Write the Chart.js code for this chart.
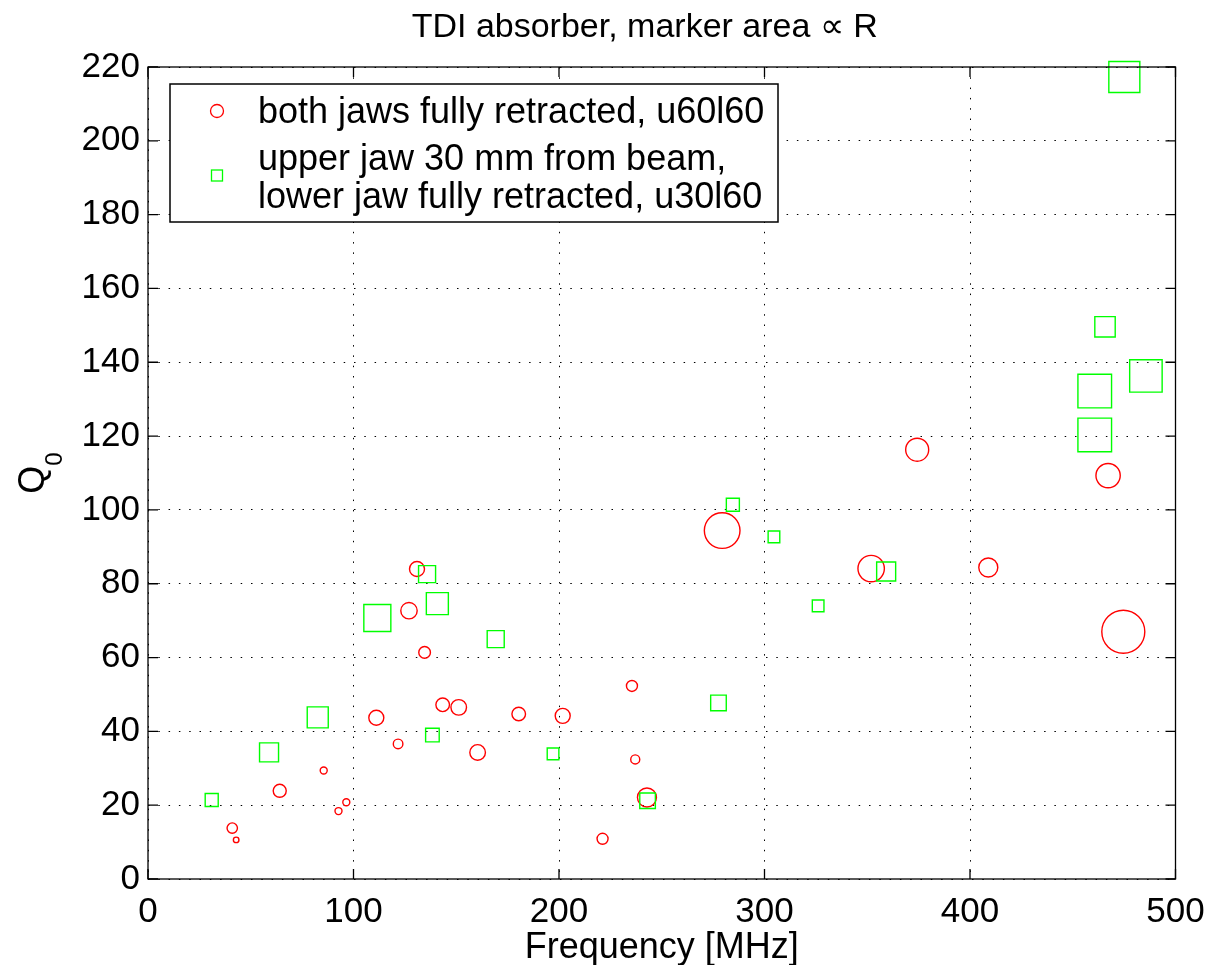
<!DOCTYPE html>
<html>
<head>
<meta charset="utf-8">
<title>TDI absorber</title>
<script src="https://cdn.jsdelivr.net/npm/chart.js@4.4.1/dist/chart.umd.min.js"></script>
<style>
    html, body { margin: 0; padding: 0; background: #fff; }
    #wrap { width: 1213px; height: 965px; }
</style>
</head>
<body>
<div id="wrap"><canvas id="tdiChart" width="1213" height="965"></canvas></div>
<script>
// u60l60: both jaws fully retracted
const redFreq = [41.0, 42.9, 64.1, 85.5, 92.7, 96.5, 111.1, 121.7, 127.0, 130.9, 134.6, 143.4, 151.2,
    160.4, 180.4, 201.8, 221.2, 235.5, 237.1, 242.8, 279.4, 351.9, 374.3, 408.9, 467.2, 474.6]
const redQ = [13.8, 10.6, 23.9, 29.4, 18.4, 20.8, 43.7, 36.6, 72.7, 84.0, 61.4, 47.2, 46.5,
    34.3, 44.7, 44.2, 10.9, 52.3, 32.4, 22.1, 94.4, 84.1, 116.3, 84.4, 109.3, 67.0]
const redR = [8.1, 2.7, 12.3, 4, 4, 4, 16, 7, 18.9, 16, 10, 13.3, 17.2,
    17.2, 13.3, 16, 9, 9, 6.3, 25, 84, 47, 36, 25, 40, 121]

// u30l60: upper jaw 30 mm from beam
const greenFreq = [31.0, 58.9, 82.6, 111.6, 135.8, 138.4, 140.8, 169.2, 197.1, 243.1,
    277.6, 284.6, 304.6, 326.1, 359.2, 460.7, 460.7, 465.7, 475.1, 485.6]
const greenQ = [21.4, 34.3, 43.8, 70.7, 82.6, 39.0, 74.6, 65.0, 33.9, 21.2,
    47.7, 101.4, 92.7, 74.0, 83.3, 120.3, 132.2, 149.6, 217.3, 136.3]
const greenR = [12.3, 25, 30.3, 49, 20.3, 13.3, 33.1, 20.3, 10, 17.2,
    17.2, 12.3, 10, 10, 25, 75, 75, 28.6, 64, 70]

const seriesLabels = [
    ['both jaws fully retracted, u60l60'],
    ['upper jaw 30 mm from beam,', 'lower jaw fully retracted, u30l60']
]
const titleText = 'TDI absorber, marker area \u221D R'
const xLabel = 'Frequency [MHz]'
const yLabel = 'Q'
const yLabelSub = '0'

const FONT = '"Liberation Sans", Arial, Helvetica, sans-serif'

// marker area proportional to R -> half size grows with sqrt(R)
const halfSize = r => 2 * Math.sqrt(r) - 0.5

const toPoints = (xs, ys) => xs.map((x, i) => ({ x: x, y: ys[i] }))

const matlabFrame = {
    id: 'matlabFrame',
    afterDraw(chart) {
        const { ctx, chartArea: a, scales } = chart
        ctx.save()
        ctx.strokeStyle = '#000'
        ctx.lineWidth = 1.3
        ctx.strokeRect(a.left, a.top, a.right - a.left, a.bottom - a.top)

        // inward ticks on all four sides
        const len = 10
        ctx.beginPath()
        scales.x.ticks.forEach(t => {
            const px = scales.x.getPixelForValue(t.value)
            ctx.moveTo(px, a.bottom); ctx.lineTo(px, a.bottom - len)
            ctx.moveTo(px, a.top); ctx.lineTo(px, a.top + len)
        })
        scales.y.ticks.forEach(t => {
            const py = scales.y.getPixelForValue(t.value)
            ctx.moveTo(a.left, py); ctx.lineTo(a.left + len, py)
            ctx.moveTo(a.right, py); ctx.lineTo(a.right - len, py)
        })
        ctx.stroke()

        ctx.fillStyle = '#000'
        const cx = (a.left + a.right) / 2

        // title
        ctx.font = '34px ' + FONT
        ctx.textAlign = 'center'
        ctx.textBaseline = 'alphabetic'
        ctx.fillText(titleText, cx - 17, 37)

        // x label
        ctx.font = '36px ' + FONT
        ctx.fillText(xLabel, cx, 958)

        // y label with subscript
        ctx.save()
        ctx.translate(44, (a.top + a.bottom) / 2)
        ctx.rotate(-Math.PI / 2)
        ctx.textAlign = 'left'
        ctx.font = '36px ' + FONT
        const wq = ctx.measureText(yLabel).width
        ctx.font = '24px ' + FONT
        const ws = ctx.measureText(yLabelSub).width
        const start = -(wq + ws) / 2
        ctx.font = '36px ' + FONT
        ctx.fillText(yLabel, start, 0)
        ctx.font = '24px ' + FONT
        ctx.fillText(yLabelSub, start + wq, 18)
        ctx.restore()

        // legend box
        const lx = a.left + 22, ly = a.top + 17, lw = 608, lh = 138
        ctx.fillStyle = '#fff'
        ctx.fillRect(lx, ly, lw, lh)
        ctx.lineWidth = 1.5
        ctx.strokeStyle = '#000'
        ctx.strokeRect(lx, ly, lw, lh)

        ctx.font = '36px ' + FONT
        ctx.fillStyle = '#000'
        ctx.textAlign = 'left'
        const textX = lx + 88
        const markX = lx + 47
        // row 1
        ctx.fillText(seriesLabels[0][0], textX, ly + 39)
        ctx.beginPath()
        ctx.arc(markX, ly + 27, 6.5, 0, Math.PI * 2)
        ctx.strokeStyle = chart.data.datasets[0].borderColor
        ctx.lineWidth = 1.3
        ctx.stroke()
        // row 2 (two lines)
        ctx.fillText(seriesLabels[1][0], textX, ly + 86)
        ctx.fillText(seriesLabels[1][1], textX, ly + 124)
        ctx.strokeStyle = chart.data.datasets[1].borderColor
        ctx.strokeRect(markX - 5.5, ly + 86, 11, 11)
        ctx.restore()
    }
}

const ctx = document.getElementById('tdiChart').getContext('2d')
const tdiChart = new Chart(ctx, {
    type: 'scatter',
    data: {
        datasets: [{
            label: seriesLabels[0].join(' '),
            data: toPoints(redFreq, redQ),
            pointStyle: 'circle',
            borderColor: '#ff0000',
            backgroundColor: 'rgba(0,0,0,0)',
            pointBorderWidth: 1.4,
            pointRadius: c => halfSize(redR[c.dataIndex]),
            clip: false,
            order: 2
        }, {
            label: seriesLabels[1].join(' '),
            data: toPoints(greenFreq, greenQ),
            pointStyle: 'rect',
            borderColor: '#00ff00',
            backgroundColor: 'rgba(0,0,0,0)',
            pointBorderWidth: 1.4,
            pointRadius: c => halfSize(greenR[c.dataIndex]) * Math.SQRT2,
            clip: false,
            order: 1
        }]
    },
    options: {
        responsive: false,
        animation: false,
        events: [],
        layout: {
            padding: { left: 0, right: 37.5, top: 67, bottom: 0 }
        },
        scales: {
            x: {
                type: 'linear',
                min: 0,
                max: 500,
                ticks: {
                    stepSize: 100,
                    color: '#000',
                    padding: 12,
                    font: { family: FONT, size: 35 }
                },
                grid: {
                    color: '#000',
                    lineWidth: 1,
                    drawTicks: false
                },
                border: { display: false, dash: [1.5, 8.8] },
                afterFit(scale) {
                    scale.height = 86
                    scale.paddingLeft = 0
                    scale.paddingRight = 0
                }
            },
            y: {
                type: 'linear',
                min: 0,
                max: 220,
                ticks: {
                    stepSize: 20,
                    color: '#000',
                    padding: 8,
                    font: { family: FONT, size: 35 }
                },
                grid: {
                    color: '#000',
                    lineWidth: 1,
                    drawTicks: false
                },
                border: { display: false, dash: [1.5, 8.8] },
                afterFit(scale) {
                    scale.width = 148
                    scale.paddingTop = 0
                    scale.paddingBottom = 0
                }
            }
        },
        plugins: {
            legend: { display: false },
            title: { display: false },
            tooltip: { enabled: false }
        }
    },
    plugins: [matlabFrame]
})
</script>
</body>
</html>
